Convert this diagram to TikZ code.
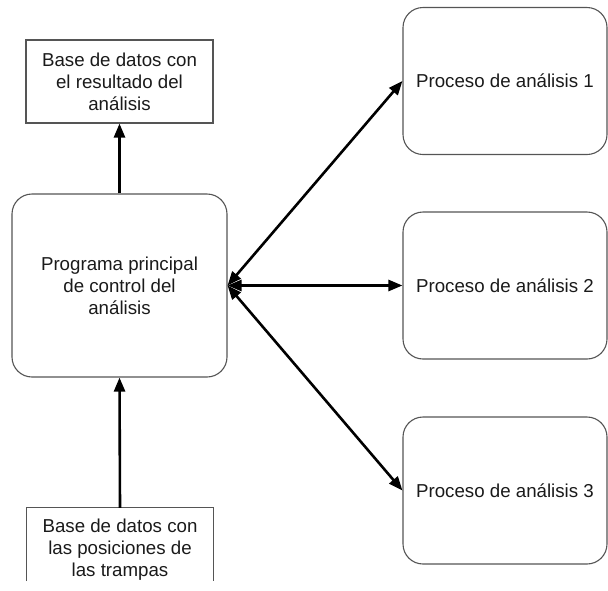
\documentclass[tikz,border=0pt]{standalone}
\usepackage{fontspec}
\setmainfont{Liberation Sans}
\usetikzlibrary{arrows.meta}
\definecolor{boxline}{HTML}{555555}
\definecolor{txt}{HTML}{1A1A1A}
\begin{document}
\begin{tikzpicture}[x=1pt,y=-1pt,
  lbl/.style={font=\fontsize{18.7pt}{22pt}\selectfont, text=txt, align=center, inner sep=0pt},
  dbbox/.style={lbl, draw=boxline, line width=1.1pt, minimum width=187pt, minimum height=83pt},
  procbox/.style={lbl, draw=boxline, line width=1.1pt, rounded corners=20pt, minimum width=204pt, minimum height=147pt},
  link/.style={line width=2.6pt, -{Triangle[length=14pt,width=11pt]}},
  dlink/.style={line width=2.6pt, {Triangle[length=14pt,width=11pt]}-{Triangle[length=14pt,width=11pt]}, shorten <=0pt}
]
\useasboundingbox (0,0) rectangle (608,590);
\node[dbbox] (db1) at (119.5,81.5) {Base de datos con\\el resultado del\\análisis};
\node[procbox, minimum width=215pt, minimum height=183pt] (main) at (119.5,285.5) {Programa principal\\de control del\\análisis};
\node[lbl, minimum width=187pt, minimum height=84pt] (db2) at (120,550) {Base de datos con\\las posiciones de\\las trampas};
\draw[boxline, line width=1.1pt] ([yshift=11pt]db2.south west) -- (db2.north west) -- (db2.north east) -- ([yshift=11pt]db2.south east);
\node[procbox] (p1) at (505,81) {Proceso de análisis 1};
\node[procbox] (p2) at (505,285.5) {Proceso de análisis 2};
\node[procbox] (p3) at (505,490.5) {Proceso de análisis 3};
\draw[link] (main.north) -- (db1.south);
\draw[link] (db2.north) -- (main.south);
\draw[dlink] (main.east) -- (p1.west);
\draw[dlink] (main.east) -- (p2.west);
\draw[dlink] (main.east) -- (p3.west);
\end{tikzpicture}
\end{document}
